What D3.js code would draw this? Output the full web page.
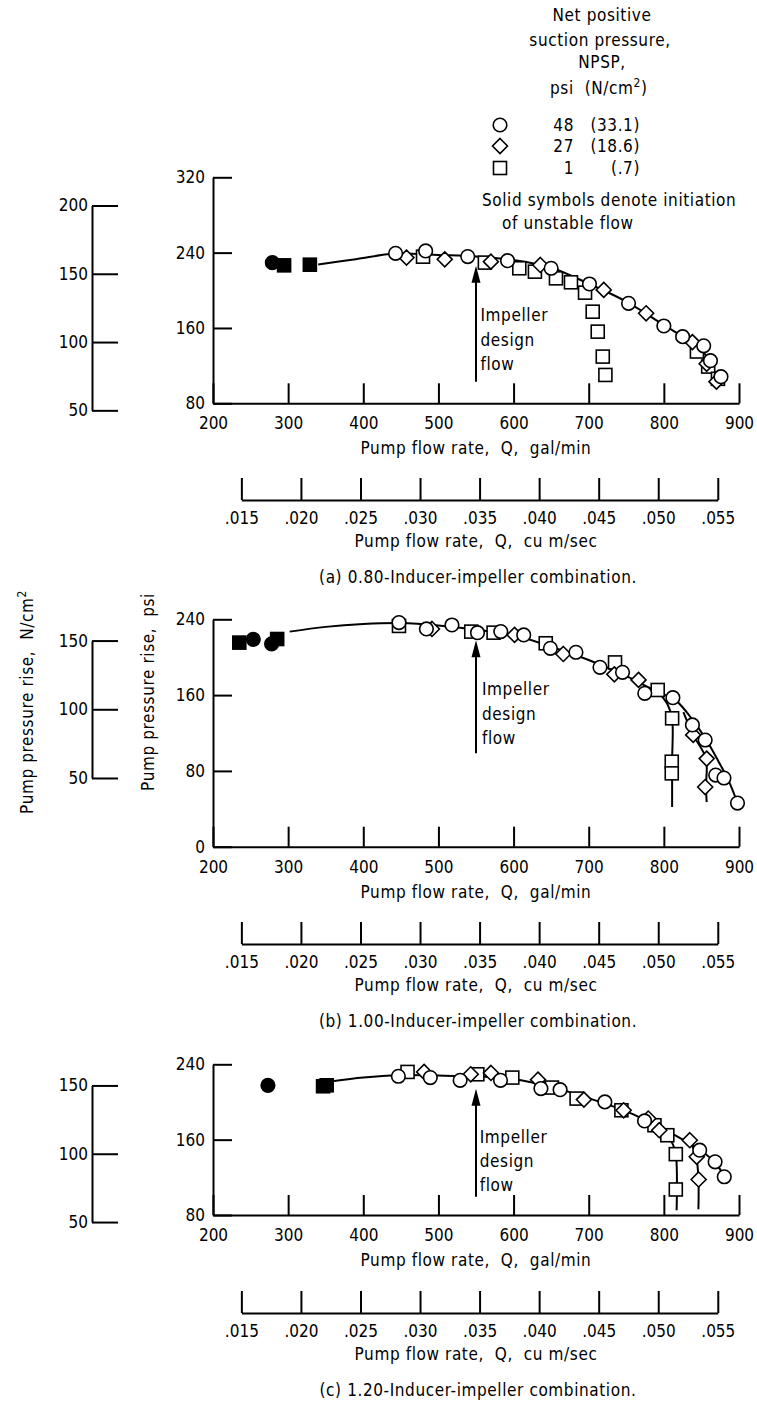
<!DOCTYPE html>
<html>
<head>
<meta charset="utf-8">
<script src="https://cdn.jsdelivr.net/npm/d3@7"></script>
<style>
  body { margin: 0; background: #fff; }
  svg text { font-family: 'DejaVu Sans Condensed', sans-serif; font-size: 17px; letter-spacing: 0.6px; fill: #000; white-space: pre; }
</style>
</head>
<body>
<svg id="chart" width="757" height="1407"></svg>
<script>
// --- tick values ---
const gpmTicks = [200, 300, 400, 500, 600, 700, 800, 900];
const cmsTicks = [0.015, 0.020, 0.025, 0.030, 0.035, 0.040, 0.045, 0.050, 0.055];
const aPsiTicks = [80, 160, 240, 320];
const bPsiTicks = [0, 80, 160, 240];
const cPsiTicks = [80, 160, 240];
const aNcmTicks = [50, 100, 150, 200];
const bNcmTicks = [50, 100, 150];
const cNcmTicks = [50, 100, 150];

// legend rows: NPSP psi, (N/cm2)
const legendSymbols = ['circle', 'diamond', 'square'];
const legendPsi = ['48', '27', '1'];
const legendNcm = ['(33.1)', '(18.6)', '(.7)'];

// --- (a) 0.80 combination: [gal/min, psi] ---
const aCircles = [[443, 239.3], [483, 241.8], [539, 235.8], [592, 231.5], [650, 223.4], [701, 206.7], [753, 186.2],
  [800, 162.1], [825, 150.8], [853, 141], [862, 125.3], [876, 108.3]];
const aDiamonds = [[457.5, 234.7], [508.4, 232.9], [569.8, 230.4], [635.6, 226.9], [720, 200.4], [776.4, 175.6],
  [838, 145], [857, 122], [870, 103]];
const aSquares = [[479.5, 235.7], [561.8, 229.4], [607.6, 223.4], [628.4, 219.8], [656.4, 212.7], [676.4, 208.5],
  [695.1, 197.5], [705.3, 177.3], [712, 156.1], [718.7, 129.6], [722.2, 110.1], [844, 135], [859, 119], [872, 106]];
const aSolidCircles = [[279, 229.3]];
const aSolidSquares = [[294.6, 226.5], [328.9, 227.2]];
const aCurve = [[340, 227.5], [390, 233], [443, 239], [500, 237.5], [550, 236], [600, 232], [650, 224], [700, 207],
  [750, 188], [800, 163], [825, 151], [850, 137], [872, 106]];
const aArrow = [103, 226];
const aNoteAt = [556, 173.5];

// --- (b) 1.00 combination ---
const bCircles = [[447.5, 236.5], [484, 229.8], [518, 234], [552, 225.9], [583, 227], [613.5, 223.5], [649, 209.4],
  [683, 205.2], [715, 189.3], [745, 184], [774.6, 161.9], [812, 157.3], [838, 128.5], [855, 112.6], [869, 75.6],
  [880, 72.5], [898, 46]];
const bDiamonds = [[491.4, 229.8], [601.3, 223.5], [666.2, 203.4], [734.1, 181.9], [766.3, 176], [839, 118],
  [857, 93], [855, 63]];
const bSquares = [[447.5, 233], [543.7, 227], [573.4, 225.9], [642.8, 214.7], [735, 194.5], [791.8, 165.4],
  [811, 135.5], [810.5, 89.7], [810.5, 77.4]];
const bSolidCircles = [[253.6, 218.9], [278, 214]];
const bSolidSquares = [[235, 215.4], [285.4, 219.2]];
const bCurve = [[302, 227], [350, 232], [400, 235], [450, 236], [500, 233.5], [550, 229], [600, 223.5], [650, 211],
  [700, 197], [750, 180], [790, 164], [815, 155], [840, 132], [857, 112], [872, 91], [886, 70], [898, 46]];
const bSquareBranch = [[792, 164], [805, 150], [811, 135], [811, 90], [811, 42]];
const bDiamondBranch = [[826, 142], [839, 118], [856, 93], [856, 63], [857, 47]];
const bArrow = [98.5, 218];
const bNoteAt = [558, 166];

// --- (c) 1.20 combination ---
const cCircles = [[446.7, 227.3], [489.2, 225.9], [528.9, 223], [582.6, 223], [636.4, 214.2], [661.9, 213.1],
  [721.5, 200.1], [774.3, 179.9], [847.7, 148.8], [868.2, 136.5], [880.4, 120.6]];
const cDiamonds = [[480.9, 231.9], [543, 229.4], [569.9, 230.8], [632.5, 223.7], [693.6, 202.5], [746.5, 191.2],
  [779.2, 182.4], [793.9, 170], [834.5, 159.4], [843.8, 141.8], [846.3, 117.7]];
const cSquares = [[458.9, 231.9], [551.8, 229.4], [598.3, 225.9], [651.1, 215.3], [683.9, 203.6], [743.5, 191.2],
  [787.5, 175.3], [804.6, 164.7], [815.9, 144.6], [815.9, 107.1]];
const cSolidCircles = [[273.1, 217.7]];
const cSolidSquares = [[346.5, 216.7], [351.3, 217.7]];
const cCurve = [[358.7, 222], [400, 226], [447, 228.5], [500, 228], [550, 227], [600, 224.5], [650, 216], [700, 204],
  [750, 190], [800, 171], [830, 158], [848, 149], [868, 136], [881, 120]];
const cSquareBranch = [[800, 168], [812, 155], [816, 144], [817, 85]];
const cDiamondBranch = [[835, 158], [843, 142], [846, 118], [846, 86]];
const cArrow = [99.4, 214];
const cNoteAt = [555, 163];

const NCM_PER_PSI = 0.6894757;
const CMS_PER_GPM = 6.30902e-5;

const svg = d3.select('#chart');
svg.append('rect').attr('width', 757).attr('height', 1407).attr('fill', '#fff');

// gal/min scale shared by all three panels
const x = d3.scaleLinear().domain([200, 900]).range([213, 739]);

const panels = [
  { yDomain: [80, 320], yRange: [403.3, 177.3], psiTicks: aPsiTicks, ncmTicks: aNcmTicks, secY: 500,
    caption: '(a) 0.80-Inducer-impeller combination.',
    circles: aCircles, diamonds: aDiamonds, squares: aSquares, solidCircles: aSolidCircles, solidSquares: aSolidSquares,
    curves: [aCurve], arrow: aArrow, note: aNoteAt },
  { yDomain: [0, 240], yRange: [846.7, 619.3], psiTicks: bPsiTicks, ncmTicks: bNcmTicks, secY: 944,
    caption: '(b) 1.00-Inducer-impeller combination.',
    circles: bCircles, diamonds: bDiamonds, squares: bSquares, solidCircles: bSolidCircles, solidSquares: bSolidSquares,
    curves: [bCurve, bSquareBranch, bDiamondBranch], arrow: bArrow, note: bNoteAt },
  { yDomain: [80, 240], yRange: [1215, 1064.3], psiTicks: cPsiTicks, ncmTicks: cNcmTicks, secY: 1313,
    caption: '(c) 1.20-Inducer-impeller combination.',
    circles: cCircles, diamonds: cDiamonds, squares: cSquares, solidCircles: cSolidCircles, solidSquares: cSolidSquares,
    curves: [cCurve, cSquareBranch, cDiamondBranch], arrow: cArrow, note: cNoteAt }
];

function styleAxis(g) {
  g.selectAll('path.domain').attr('stroke', '#000').attr('stroke-width', 2);
  g.selectAll('.tick line').attr('stroke', '#000').attr('stroke-width', 2);
  g.selectAll('.tick text').attr('fill', '#000').style('font-size', '17px').style('letter-spacing', '0px')
    .style('font-family', "'DejaVu Sans Condensed', sans-serif");
}

// draw one marker
function marker(g, kind, px, py, solid) {
  const fill = solid ? '#000' : '#fff';
  if (kind === 'circle') {
    g.append('circle').attr('cx', px).attr('cy', py).attr('r', 6.8)
      .attr('fill', fill).attr('stroke', '#000').attr('stroke-width', 1.6);
  } else if (kind === 'square') {
    g.append('rect').attr('x', px - 6.5).attr('y', py - 6.5).attr('width', 13).attr('height', 13)
      .attr('fill', fill).attr('stroke', '#000').attr('stroke-width', 1.6);
  } else {
    const r = 7.5;
    g.append('path').attr('d', `M${px},${py - r}L${px + r},${py}L${px},${py + r}L${px - r},${py}Z`)
      .attr('fill', fill).attr('stroke', '#000').attr('stroke-width', 1.6);
  }
}

panels.forEach(p => {
  const y = d3.scaleLinear().domain(p.yDomain).range(p.yRange);
  const base = p.yRange[0];
  const g = svg.append('g');

  // psi axis (ticks point inward)
  g.append('g').attr('transform', 'translate(213,0)')
    .call(d3.axisLeft(y).tickValues(p.psiTicks).tickSize(-19).tickSizeOuter(0).tickPadding(8))
    .call(styleAxis);

  // N/cm2 axis, same pressure scale converted
  const yN = d3.scaleLinear()
    .domain([p.ncmTicks[0], p.ncmTicks[p.ncmTicks.length - 1]])
    .range([y(p.ncmTicks[0] / NCM_PER_PSI), y(p.ncmTicks[p.ncmTicks.length - 1] / NCM_PER_PSI)]);
  g.append('g').attr('transform', 'translate(92,0)')
    .call(d3.axisLeft(yN).tickValues(p.ncmTicks).tickSize(-26).tickSizeOuter(0).tickPadding(4))
    .call(styleAxis);

  // gal/min axis
  g.append('g').attr('transform', `translate(0,${base})`)
    .call(d3.axisBottom(x).tickValues(gpmTicks).tickSize(-20).tickSizeOuter(0).tickPadding(14))
    .call(styleAxis);
  g.append('text').attr('x', 476).attr('y', base + 51).attr('text-anchor', 'middle')
    .text('Pump flow rate,  Q,  gal/min');

  // cu m/sec axis
  const xc = d3.scaleLinear().domain([0.015, 0.055])
    .range([x(0.015 / CMS_PER_GPM), x(0.055 / CMS_PER_GPM)]);
  g.append('g').attr('transform', `translate(0,${p.secY})`)
    .call(d3.axisBottom(xc).tickValues(cmsTicks).tickSize(-22).tickSizeOuter(0).tickPadding(12)
      .tickFormat(d => d3.format('.3f')(d).slice(1)))
    .call(styleAxis);
  g.append('text').attr('x', 476).attr('y', p.secY + 47).attr('text-anchor', 'middle')
    .text('Pump flow rate,  Q,  cu m/sec');
  g.append('text').attr('x', 478).attr('y', p.secY + 83).attr('text-anchor', 'middle')
    .text(p.caption);

  // faired curves
  const line = d3.line().x(d => x(d[0])).y(d => y(d[1])).curve(d3.curveCatmullRom.alpha(0.5));
  p.curves.forEach(c => {
    g.append('path').datum(c).attr('d', line)
      .attr('fill', 'none').attr('stroke', '#000').attr('stroke-width', 2);
  });

  // design flow arrow
  const ax = x(550), ay0 = y(p.arrow[0]), ay1 = y(p.arrow[1]);
  g.append('line').attr('x1', ax).attr('x2', ax).attr('y1', ay0).attr('y2', ay1 + 10)
    .attr('stroke', '#000').attr('stroke-width', 2);
  g.append('path').attr('d', `M${ax},${ay1}L${ax - 4.5},${ay1 + 17}L${ax + 4.5},${ay1 + 17}Z`).attr('fill', '#000');
  ['Impeller', 'design', 'flow'].forEach((t, i) => {
    g.append('text').attr('x', x(p.note[0])).attr('y', y(p.note[1]) + i * 24.3)
      .attr('dominant-baseline', 'central').text(t);
  });

  // data points
  const mg = g.append('g');
  p.squares.forEach(d => marker(mg, 'square', x(d[0]), y(d[1]), false));
  p.diamonds.forEach(d => marker(mg, 'diamond', x(d[0]), y(d[1]), false));
  p.circles.forEach(d => marker(mg, 'circle', x(d[0]), y(d[1]), false));
  p.solidCircles.forEach(d => marker(mg, 'circle', x(d[0]), y(d[1]), true));
  p.solidSquares.forEach(d => marker(mg, 'square', x(d[0]), y(d[1]), true));
});

// y axis titles
const t1 = svg.append('text').attr('transform', 'translate(33,702) rotate(-90)').attr('text-anchor', 'middle');
t1.append('tspan').text('Pump pressure rise,  N/cm');
t1.append('tspan').attr('baseline-shift', 'super').style('font-size', '12px').text('2');
svg.append('text').attr('transform', 'translate(154,692) rotate(-90)').attr('text-anchor', 'middle')
  .text('Pump pressure rise,  psi');

// legend
const lg = svg.append('g');
lg.append('text').attr('x', 602).attr('y', 21).attr('text-anchor', 'middle').text('Net positive');
lg.append('text').attr('x', 600).attr('y', 46).attr('text-anchor', 'middle').text('suction pressure,');
lg.append('text').attr('x', 602).attr('y', 68).attr('text-anchor', 'middle').text('NPSP,');
const lt = lg.append('text').attr('x', 550).attr('y', 94);
lt.append('tspan').text('psi  (N/cm');
lt.append('tspan').attr('baseline-shift', 'super').style('font-size', '12px').text('2');
lt.append('tspan').attr('baseline-shift', 'baseline').text(')');
const rowY = [125, 146, 168];
legendSymbols.forEach((s, i) => {
  marker(lg, s, 500, rowY[i], false);
  lg.append('text').attr('x', 574).attr('y', rowY[i]).attr('dominant-baseline', 'central')
    .attr('text-anchor', 'end').text(legendPsi[i]);
  lg.append('text').attr('x', 640).attr('y', rowY[i]).attr('dominant-baseline', 'central')
    .attr('text-anchor', 'end').text(legendNcm[i]);
});
lg.append('text').attr('x', 482).attr('y', 206).text('Solid symbols denote initiation');
lg.append('text').attr('x', 502).attr('y', 229).text('of unstable flow');
</script>
</body>
</html>
